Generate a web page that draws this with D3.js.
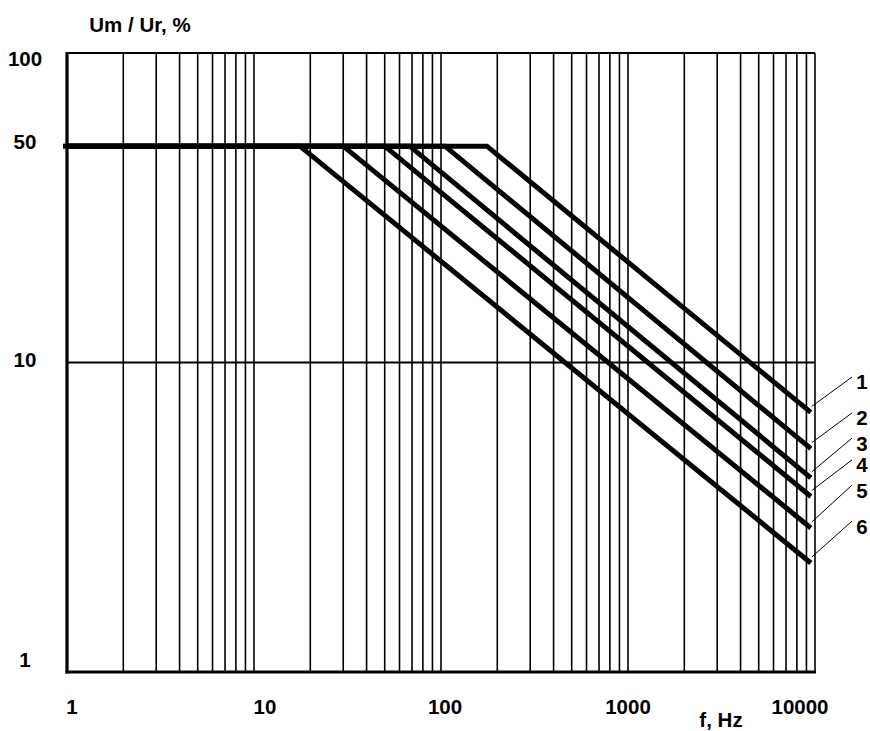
<!DOCTYPE html>
<html>
<head>
<meta charset="utf-8">
<script src="https://cdn.jsdelivr.net/npm/d3@7"></script>
<style>
  html, body { margin: 0; padding: 0; background: #fff; }
  svg text { font-family: "Liberation Sans", Arial, Helvetica, sans-serif; font-weight: bold; fill: #000; }
</style>
</head>
<body>
<svg id="chart" width="870" height="731"></svg>
<script>
// ---- data ----
const seriesNames = ["1", "2", "3", "4", "5", "6"];
const plateauValue = 50;                       // Um/Ur, %
const breakFreqs = [176, 105, 68, 50, 30, 17.6]; // Hz, where each curve leaves the 50 % plateau
const endFreq = 9500;                           // Hz, where curves end
const endValues = [6.9, 5.27, 4.24, 3.69, 2.92, 2.25]; // Um/Ur % at endFreq
const xTickValues = [1, 10, 100, 1000, 10000];
const xTickLabels = ["1", "10", "100", "1000", "10000"];
const yTickValues = [100, 50, 10, 1];
const yTickLabels = ["100", "50", "10", "1"];
const labelValues = [8.65, 6.62, 5.49, 4.67, 3.87, 2.96]; // where the curve number labels sit (value axis)

// ---- layout ----
const svg = d3.select("#chart");
const x = d3.scaleLog().domain([1, 10000]).range([67, 815]);
const y = d3.scaleLog().domain([1, 100]).range([672, 53]);

// vertical grid: every 1..9 multiple of each decade
const gridX = [];
for (let d = 1; d <= 1000; d *= 10) for (let k = 2; k <= 10; k++) gridX.push(k * d);

svg.append("g").selectAll("line").data(gridX).join("line")
  .attr("x1", d => x(d)).attr("x2", d => x(d))
  .attr("y1", y(100)).attr("y2", y(1))
  .attr("stroke", "#000").attr("stroke-width", 1.6);

// horizontal grid lines at 10 and top border at 100
svg.append("g").selectAll("line").data([10, 100]).join("line")
  .attr("x1", x(1)).attr("x2", x(10000))
  .attr("y1", d => y(d)).attr("y2", d => y(d))
  .attr("stroke", "#000").attr("stroke-width", 1.8);

// axes lines (thick left & bottom)
svg.append("line").attr("x1", x(1)).attr("x2", x(1)).attr("y1", y(100) - 1).attr("y2", y(1) + 1.5)
  .attr("stroke", "#000").attr("stroke-width", 3.2);
svg.append("line").attr("x1", x(1) - 1.5).attr("x2", x(10000) + 1).attr("y1", y(1)).attr("y2", y(1))
  .attr("stroke", "#000").attr("stroke-width", 3);

// curves
const lineGen = d3.line().x(d => x(d[0])).y(d => y(d[1]));
const seriesData = seriesNames.map((n, i) => [[1, plateauValue], [breakFreqs[i], plateauValue], [endFreq, endValues[i]]]);
svg.append("g").selectAll("path").data(seriesData).join("path")
  .attr("d", lineGen)
  .attr("fill", "none").attr("stroke", "#000").attr("stroke-width", 5)
  .attr("stroke-linejoin", "miter").attr("stroke-linecap", "butt");
// small overhang of the plateau to the left of the axis
svg.append("line").attr("x1", x(1) - 4).attr("x2", x(1) + 2).attr("y1", y(plateauValue)).attr("y2", y(plateauValue))
  .attr("stroke", "#000").attr("stroke-width", 5);

// leader lines and curve numbers
const labelX = 862;
svg.append("g").selectAll("line").data(seriesNames).join("line")
  .attr("x1", x(endFreq) + 1).attr("y1", (d, i) => y(endValues[i]) - 6)
  .attr("x2", 852).attr("y2", (d, i) => y(labelValues[i]) - 5)
  .attr("stroke", "#000").attr("stroke-width", 1);
svg.append("g").selectAll("text").data(seriesNames).join("text")
  .attr("x", labelX).attr("y", (d, i) => y(labelValues[i]))
  .attr("text-anchor", "middle").attr("dominant-baseline", "central")
  .attr("font-size", 20.5).text(d => d);

// y tick labels
const yLabelDy = [5, -5, -3, -13];
svg.append("g").selectAll("text").data(yTickValues).join("text")
  .attr("x", 25).attr("y", (d, i) => y(d) + yLabelDy[i])
  .attr("text-anchor", "middle").attr("dominant-baseline", "central")
  .attr("font-size", 20.5).text((d, i) => yTickLabels[i]);

// x tick labels
const xLabelDx = [5, 11, 4, 0, -15];
svg.append("g").selectAll("text").data(xTickValues).join("text")
  .attr("x", (d, i) => x(d) + xLabelDx[i]).attr("y", 706)
  .attr("text-anchor", "middle").attr("dominant-baseline", "central")
  .attr("font-size", 20.5).text((d, i) => xTickLabels[i]);

// axis titles
svg.append("text").attr("x", 140).attr("y", 24).attr("text-anchor", "middle")
  .attr("dominant-baseline", "central").attr("font-size", 20.5).text("Um / Ur, %");
svg.append("text").attr("x", 721).attr("y", 719).attr("text-anchor", "middle")
  .attr("dominant-baseline", "central").attr("font-size", 20.5).text("f, Hz");
</script>
</body>
</html>
